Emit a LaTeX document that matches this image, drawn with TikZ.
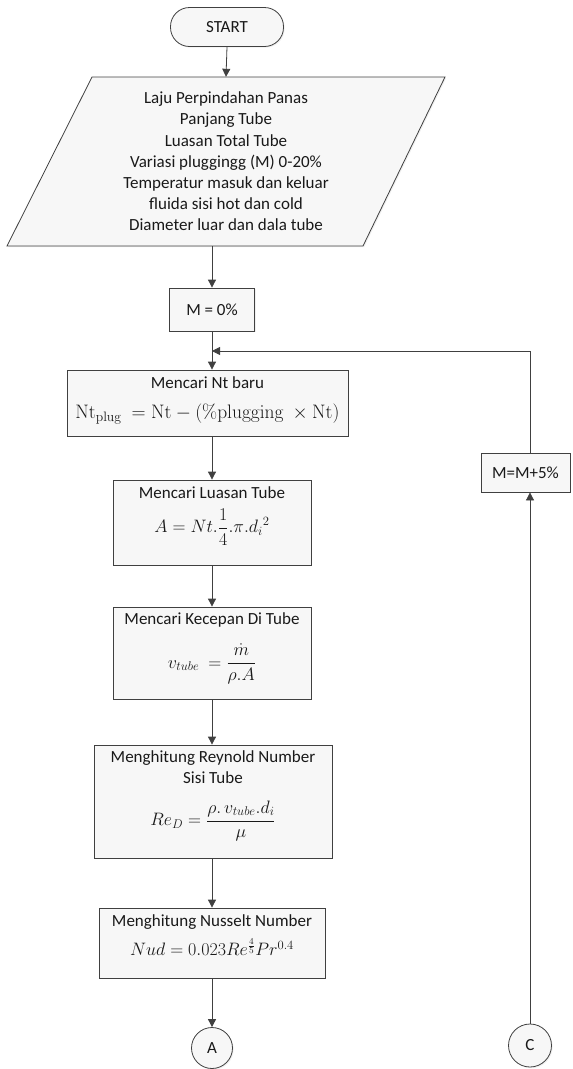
\documentclass[tikz,border=0pt]{standalone}
\usepackage{fix-cm}
\usepackage{amsmath}
\usepackage[no-math]{fontspec}
\setmainfont{Carlito}
\usetikzlibrary{arrows.meta,shapes.geometric,shadows}
\begin{document}
\begin{tikzpicture}[x=1pt,y=-1pt,
  every node/.style={font=\fontsize{17}{21.2}\selectfont, inner sep=0pt, text=black!90},
  mathtext/.style={font=\fontsize{18}{22}\selectfont},
  box/.style={draw=black!75, line width=0.8pt, fill=black!3,
    drop shadow={shadow xshift=1.2pt, shadow yshift=-1.2pt, opacity=0.12}},
  conn/.style={draw=black!75, line width=0.8pt, -{Triangle[width=8pt,length=8pt]}}]
\useasboundingbox (0,0) rectangle (573,1069);

% start
\node[box, rounded corners=19pt, minimum width=113pt, minimum height=39pt] (start) at (227,27) {START};

% input parallelogram
\draw[box] (92,77) -- (445,77) -- (363,246) -- (7,246) -- cycle;
\node[minimum height=169pt, align=center] (inp) at (226,161.5)
  {Laju Perpindahan Panas\\Panjang Tube\\Luasan Total Tube\\Variasi pluggingg (M) 0-20\%\\Temperatur masuk dan keluar\\fluida sisi hot dan cold\\Diameter luar dan dala tube};

% M = 0%
\node[box, minimum width=85pt, minimum height=43pt] (m0) at (212,309.5) {M = 0\%};

% Nt baru
\node[box, minimum width=281pt, minimum height=66pt] (nt) at (207.5,403) {};
\node (ntA) at (207.5,383) {Mencari Nt baru};
\node[font=\fontsize{19.5}{23}\selectfont] (ntB) at (207.5,414) {$\mathrm{Nt_{plug}}\ = \mathrm{Nt} - (\%\mathrm{plugging}\ \times \mathrm{Nt})$};

% Luasan
\node[box, minimum width=198pt, minimum height=85pt] (lu) at (212,522.5) {};
\node (luA) at (212,493) {Mencari Luasan Tube};
\node[mathtext] (luB) at (212,527) {$\displaystyle A = Nt.\frac{1}{4}.\pi.{d_i}^2$};

% Kecepan
\node[box, minimum width=198pt, minimum height=92pt] (ke) at (212,653) {};
\node (keA) at (212,620) {Mencari Kecepan Di Tube};
\node[mathtext] (keB) at (212,664) {$\displaystyle v_{tube}\ = \frac{\dot m}{\rho.A}$};

% Reynold
\node[box, minimum width=238pt, minimum height=113pt] (re) at (213,801.5) {};
\node[align=center] (reA) at (213,767.5) {Menghitung Reynold Number\\Sisi Tube};
\node[mathtext] (reB) at (213,821) {$\displaystyle Re_D = \frac{\rho.\,v_{tube}.d_i}{\mu}$};

% Nusselt
\node[box, minimum width=226pt, minimum height=70pt] (nu) at (212,943) {};
\node (nuA) at (212,922) {Menghitung Nusselt Number};
\node[mathtext] (nuB) at (212,947) {$Nud = 0.023Re^{\frac{4}{5}}Pr^{0.4}$};

% connector circles
\node[box, circle, minimum size=41pt] (A) at (212,1048) {A};
\node[box, circle, minimum size=43pt] (C) at (530,1045.5) {C};

% M = M + 5%
\node[box, minimum width=89pt, minimum height=39pt] (plus) at (525.5,472.5) {M=M+5\%};

\coordinate (J) at (212,351);

% connectors
\draw[conn] (start.south) -- (inp.north);
\draw[conn] (m0.north |- inp.south) -- (m0.north);
\draw[conn] (m0.south) -- (m0.south |- nt.north);
\draw[conn] (lu.north |- nt.south) -- (lu.north);
\draw[conn] (lu.south) -- (ke.north);
\draw[conn] (ke.south) -- (ke.south |- re.north);
\draw[conn] (nu.north |- re.south) -- (nu.north);
\draw[conn] (nu.south) -- (A.north);
\draw[conn] (C.north) -- (C.north |- plus.south);
\draw[conn] (C.north |- plus.north) |- (J);
\end{tikzpicture}
\end{document}
